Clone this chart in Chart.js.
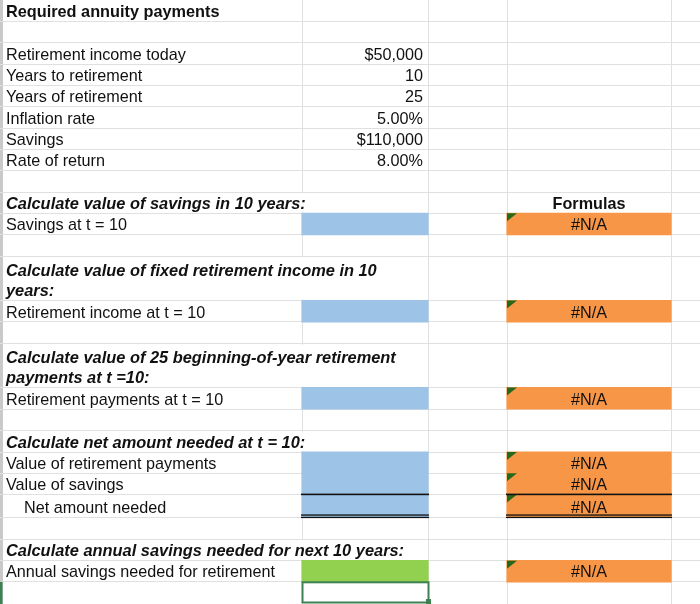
<!DOCTYPE html>
<html>
<head>
<meta charset="utf-8">
<title>Required annuity payments</title>
<script src="https://cdn.jsdelivr.net/npm/chart.js@4.4.1/dist/chart.umd.min.js"></script>
<style>
  html, body { margin: 0; padding: 0; background: #fff; }
  #wrap { width: 700px; height: 604px; }
</style>
</head>
<body>
<div id="wrap"><canvas id="sheet" width="700" height="604"></canvas></div>
<script>
// column A text, one entry per sheet row
const rowLabels = [
  "Required annuity payments",
  "",
  "Retirement income today",
  "Years to retirement",
  "Years of retirement",
  "Inflation rate",
  "Savings",
  "Rate of return",
  "",
  "Calculate value of savings in 10 years:",
  "Savings at t = 10",
  "",
  "Calculate value of fixed retirement income in 10\nyears:",
  "Retirement income at t = 10",
  "",
  "Calculate value of 25 beginning-of-year retirement\npayments at t =10:",
  "Retirement payments at t = 10",
  "",
  "Calculate net amount needed at t = 10:",
  "Value of retirement payments",
  "Value of savings",
  "Net amount needed",
  "",
  "Calculate annual savings needed for next 10 years:",
  "Annual savings needed for retirement",
  ""
];
const titleRow = 0;
const headingRows = [9, 12, 15, 18, 23];
const indentRows = [21];

// inputs in column B
const inputRows = [2, 3, 4, 5, 6, 7];
const inputValues = [50000, 10, 25, 0.05, 110000, 0.08];
const inputFormats = ["usd", "int", "int", "pct", "usd", "pct"];

// answer cells in column B (blue = work, green = final answer)
const answerRows = [10, 13, 16, 19, 20, 21];
const resultRows = [24];

// formula check column D
const formulaHeaderRow = 9;
const formulaHeader = "Formulas";
const formulaRows = [10, 13, 16, 19, 20, 21, 24];
const formulaValues = ["#N/A", "#N/A", "#N/A", "#N/A", "#N/A", "#N/A", "#N/A"];

// sheet geometry (column and row edges)
const colEdges = [0, 302, 428, 507, 671, 700];
const rowEdges = [0, 21.4, 42.8, 64.1, 85.4, 106.7, 128, 149.3, 170.7, 192, 213.3, 234.7, 256,
  300.5, 322, 343.8, 387.5, 409, 430.6, 452, 473.3, 494.4, 517.2, 539, 560.7, 581.8, 604];
const overflowRows = [9, 12, 15, 18, 23];

const FONT = '"Liberation Sans", Arial, Helvetica, sans-serif';

function fmt(v, kind) {
  if (kind === "usd") return "$" + v.toLocaleString("en-US");
  if (kind === "pct") return (v * 100).toFixed(2) + "%";
  return String(v);
}

function cellBars(rows, col) {
  return rows.map(r => ({ x: [colEdges[col], colEdges[col + 1]], y: (rowEdges[r] + rowEdges[r + 1]) / 2 }));
}

const sheetPlugin = {
  id: "sheet",
  beforeDatasetsDraw(chart) {
    const { ctx, scales: { x, y } } = chart;
    // text overflowing into column B hides that grid line
    ctx.save();
    ctx.fillStyle = "#fff";
    overflowRows.forEach(r => {
      const top = y.getPixelForValue(rowEdges[r]) + 1;
      const bot = y.getPixelForValue(rowEdges[r + 1]) - 1;
      ctx.fillRect(x.getPixelForValue(colEdges[1]) - 1.5, top, 3, bot - top);
    });
    ctx.restore();
  },
  afterDatasetsDraw(chart) {
    const { ctx, scales: { x, y } } = chart;
    ctx.save();

    // error indicators in the formula cells
    ctx.fillStyle = "#27691c";
    formulaRows.forEach(r => {
      const x0 = x.getPixelForValue(colEdges[3]);
      const y0 = y.getPixelForValue(rowEdges[r]);
      ctx.beginPath();
      ctx.moveTo(x0, y0);
      ctx.lineTo(x0 + 10, y0);
      ctx.lineTo(x0, y0 + 8);
      ctx.closePath();
      ctx.fill();
    });

    // sum borders under "Value of savings" and "Net amount needed"
    ctx.fillStyle = "#111";
    [1, 3].forEach(c => {
      const xa = x.getPixelForValue(colEdges[c]) - 1;
      const xb = x.getPixelForValue(colEdges[c + 1]) + 1;
      const single = y.getPixelForValue(rowEdges[21]);
      ctx.fillRect(xa, single - 0.8, xb - xa, 1.6);
      const dbl = y.getPixelForValue(rowEdges[22]);
      ctx.fillRect(xa, dbl - 2.8, xb - xa, 1.3);
      ctx.fillRect(xa, dbl - 0.4, xb - xa, 1.3);
    });

    // selected cell below the answer
    const selTop = y.getPixelForValue(rowEdges[25]);
    const selBot = y.getPixelForValue(rowEdges[26]);
    const selL = x.getPixelForValue(colEdges[1]);
    const selR = x.getPixelForValue(colEdges[2]);
    ctx.strokeStyle = "#3d8152";
    ctx.lineWidth = 2;
    ctx.strokeRect(selL + 0.5, selTop + 0.5, selR - selL, selBot - selTop - 2);
    ctx.fillStyle = "#3d8152";
    ctx.fillRect(selR - 2, selBot - 5, 5, 5);
    ctx.fillRect(0, selTop, 2.5, selBot - selTop);

    // cell text
    ctx.fillStyle = "#111";
    ctx.textBaseline = "alphabetic";
    const baseFor = r => y.getPixelForValue(rowEdges[r + 1]) - 4.5;

    rowLabels.forEach((label, r) => {
      if (!label) return;
      let font = "16.2px " + FONT;
      if (r === titleRow) font = "bold 16.3px " + FONT;
      if (headingRows.includes(r)) font = "italic bold 16.4px " + FONT;
      ctx.font = font;
      ctx.textAlign = "left";
      const left = x.getPixelForValue(colEdges[0]) + (indentRows.includes(r) ? 24 : 6);
      const lines = label.split("\n");
      lines.forEach((ln, i) => {
        ctx.fillText(ln, left, baseFor(r) - (lines.length - 1 - i) * 20);
      });
    });

    ctx.font = "16.2px " + FONT;
    ctx.textAlign = "right";
    inputRows.forEach((r, i) => {
      ctx.fillText(fmt(inputValues[i], inputFormats[i]), x.getPixelForValue(colEdges[2]) - 5, baseFor(r));
    });

    ctx.textAlign = "center";
    const midD = (x.getPixelForValue(colEdges[3]) + x.getPixelForValue(colEdges[4])) / 2;
    ctx.font = "bold 16.2px " + FONT;
    ctx.fillText(formulaHeader, midD, baseFor(formulaHeaderRow));
    ctx.font = "16.2px " + FONT;
    formulaRows.forEach((r, i) => ctx.fillText(formulaValues[i], midD, baseFor(r)));

    ctx.restore();
  }
};

new Chart(document.getElementById("sheet"), {
  type: "bar",
  data: {
    datasets: [
      { label: "Work cells", data: cellBars(answerRows, 1), backgroundColor: "#9dc3e6" },
      { label: "Answer", data: cellBars(resultRows, 1), backgroundColor: "#92d050" },
      { label: "Formulas", data: cellBars(formulaRows, 3), backgroundColor: "#f79646" }
    ]
  },
  options: {
    indexAxis: "y",
    responsive: false,
    animation: false,
    events: [],
    layout: { padding: 0 },
    datasets: {
      bar: {
        grouped: false,
        barPercentage: 1,
        categoryPercentage: 1,
        inflateAmount: 0.6,
        borderWidth: 0
      }
    },
    plugins: {
      legend: { display: false },
      tooltip: { enabled: false },
      title: { display: false }
    },
    scales: {
      x: {
        type: "linear",
        min: colEdges[0],
        max: colEdges[colEdges.length - 1],
        offset: false,
        afterBuildTicks: s => { s.ticks = colEdges.map(v => ({ value: v })); },
        ticks: { display: false },
        border: { display: false },
        grid: {
          offset: false,
          drawTicks: false,
          color: c => (c.tick && c.tick.value === 0 ? "#c9c9c9" : "#e0e0e0"),
          lineWidth: c => (c.tick && c.tick.value === 0 ? 5 : 1)
        }
      },
      y: {
        type: "linear",
        reverse: true,
        min: rowEdges[0],
        max: rowEdges[rowEdges.length - 1],
        offset: false,
        afterBuildTicks: s => { s.ticks = rowEdges.map(v => ({ value: v })); },
        ticks: { display: false },
        border: { display: false },
        grid: {
          offset: false,
          drawTicks: false,
          color: c => (c.tick && c.tick.value === 0 ? "rgba(0,0,0,0)" : "#e0e0e0"),
          lineWidth: 1
        }
      }
    }
  },
  plugins: [sheetPlugin]
});
</script>
</body>
</html>
